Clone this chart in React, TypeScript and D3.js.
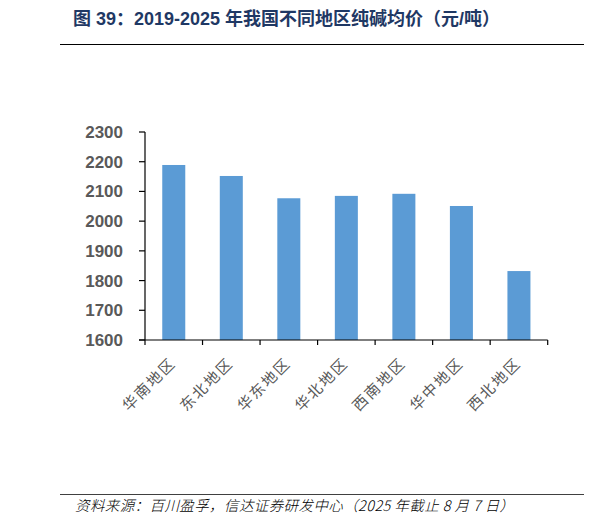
import * as d3 from 'd3';

// Categories and average soda ash prices (元/吨)
const REGIONS = ['华南地区', '东北地区', '华东地区', '华北地区', '西南地区', '华中地区', '西北地区'];
const PRICES = [2189, 2152, 2077, 2085, 2092, 2051, 1832];
const Y_TICKS = [1600, 1700, 1800, 1900, 2000, 2100, 2200, 2300];

const TITLE = '图 39：2019-2025 年我国不同地区纯碱均价（元/吨）';
const SOURCE = '资料来源：百川盈孚，信达证券研发中心（2025 年截止 8 月 7 日）';

const W = 596;
const H = 528;
const LEFT = 145;
const RIGHT = 547.7;
const TOP = 132;
const BOTTOM = 340;

const AXIS_GRAY = '#595959';
const BAR_BLUE = '#5B9BD5';

export default function App() {
  const x = d3.scaleBand<string>().domain(REGIONS).range([LEFT, RIGHT]).paddingInner(0.6).paddingOuter(0.3);
  const y = d3.scaleLinear().domain([1600, 2300]).range([BOTTOM, TOP]);
  const step = x.step();
  // category boundary ticks
  const boundaries = d3.range(REGIONS.length + 1).map((i) => LEFT + i * step);

  return (
    <svg
      width={W}
      height={H}
      style={{ position: 'absolute', left: 0, top: 0, background: '#fff' }}
      fontFamily="Arial, 'Liberation Sans', 'Noto Sans CJK SC', sans-serif"
    >
      {/* title */}
      <text x={73} y={25} fontSize={18} fontWeight="bold" fill="#1F3864">
        {TITLE}
      </text>
      <line x1={60} x2={584} y1={44.5} y2={44.5} stroke="#000" strokeWidth={1.2} />

      {/* bars */}
      {REGIONS.map((r, i) => (
        <rect
          key={r}
          x={x(r)}
          y={y(PRICES[i])}
          width={x.bandwidth()}
          height={BOTTOM - y(PRICES[i])}
          fill={BAR_BLUE}
        />
      ))}

      {/* y axis */}
      <line x1={LEFT} x2={LEFT} y1={TOP} y2={BOTTOM} stroke="#000" strokeWidth={1.2} />
      {Y_TICKS.map((t) => (
        <g key={t}>
          <line x1={LEFT - 6} x2={LEFT} y1={y(t)} y2={y(t)} stroke="#000" strokeWidth={1.2} />
          <text
            x={123}
            y={y(t)}
            dy="0.35em"
            textAnchor="end"
            fontSize={17}
            fontWeight="bold"
            fill={AXIS_GRAY}
          >
            {t}
          </text>
        </g>
      ))}

      {/* x axis */}
      <line x1={LEFT - 6} x2={RIGHT} y1={BOTTOM} y2={BOTTOM} stroke="#000" strokeWidth={1.2} />
      {boundaries.map((bx, i) => (
        <line key={i} x1={bx} x2={bx} y1={BOTTOM} y2={BOTTOM + 5} stroke="#000" strokeWidth={1.2} />
      ))}
      {REGIONS.map((r) => {
        const cx = (x(r) ?? 0) + x.bandwidth() / 2;
        return (
          <text
            key={r}
            transform={`translate(${cx + 3},${364}) rotate(-45)`}
            textAnchor="end"
            fontSize={15}
            letterSpacing={2}
            fill={AXIS_GRAY}
            fontFamily="'Noto Sans CJK SC', sans-serif"
          >
            {r}
          </text>
        );
      })}

      {/* source */}
      <line x1={60} x2={584} y1={494.5} y2={494.5} stroke="#404040" strokeWidth={1} />
      <text
        x={75}
        y={511}
        fontSize={14.5}
        letterSpacing={0.4}
        fontStyle="italic"
        fontWeight={300}
        fill="#000"
        fontFamily="'Noto Sans CJK SC', sans-serif"
      >
        {SOURCE}
      </text>
    </svg>
  );
}
